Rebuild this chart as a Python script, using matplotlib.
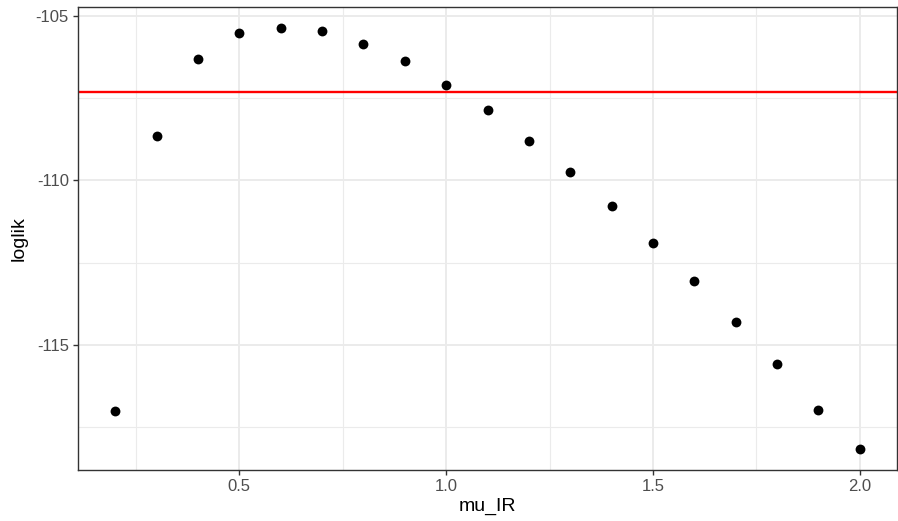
import matplotlib
matplotlib.use('Agg')
import matplotlib.pyplot as plt
from matplotlib.ticker import MultipleLocator

plt.rcParams['font.family'] = ['Liberation Sans', 'DejaVu Sans']

# profile likelihood values
mu_IR = [0.2, 0.3, 0.4, 0.5, 0.6, 0.7, 0.8, 0.9, 1.0, 1.1,
         1.2, 1.3, 1.4, 1.5, 1.6, 1.7, 1.8, 1.9, 2.0]
loglik = [-117.02, -108.66, -106.32, -105.52, -105.37, -105.47, -105.86,
          -106.38, -107.09, -107.87, -108.81, -109.75, -110.78, -111.91,
          -113.06, -114.31, -115.59, -116.99, -118.16]
cutoff = -107.30

fig = plt.figure(figsize=(8.98, 5.21), dpi=100)
ax = fig.add_axes([78 / 898, 51 / 521, 819 / 898, 463 / 521])

ax.scatter(mu_IR, loglik, s=50, color='black', zorder=3, linewidths=0)
ax.axhline(cutoff, color='#FF0000', lw=1.7, zorder=2)

# ggplot-like 5% expansion
xr = max(mu_IR) - min(mu_IR)
yr = max(loglik) - min(loglik)
ax.set_xlim(min(mu_IR) - 0.05 * xr, max(mu_IR) + 0.05 * xr)
ax.set_ylim(min(loglik) - 0.05 * yr, max(loglik) + 0.05 * yr)

ax.xaxis.set_minor_locator(MultipleLocator(0.25))
ax.yaxis.set_minor_locator(MultipleLocator(2.5))
ax.set_xticks([0.5, 1.0, 1.5, 2.0])
ax.set_xticklabels(['0.5', '1.0', '1.5', '2.0'])
ax.set_yticks([-115, -110, -105])
ax.set_yticklabels(['-115', '-110', '-105'])

ax.grid(which='major', color='#EBEBEB', lw=1.4, zorder=0)
ax.grid(which='minor', color='#EBEBEB', lw=0.8, zorder=0)
ax.set_axisbelow(True)

for s in ax.spines.values():
    s.set_color('#333333')
    s.set_linewidth(1.0)

ax.tick_params(which='major', length=3.5, width=1.0, color='#333333',
               labelcolor='#4D4D4D', labelsize=12, pad=3)
ax.tick_params(which='minor', length=0)

ax.set_xlabel('mu_IR', fontsize=14, labelpad=3)
ax.set_ylabel('loglik', fontsize=14, labelpad=6)

fig.savefig('out.png', dpi=100)
